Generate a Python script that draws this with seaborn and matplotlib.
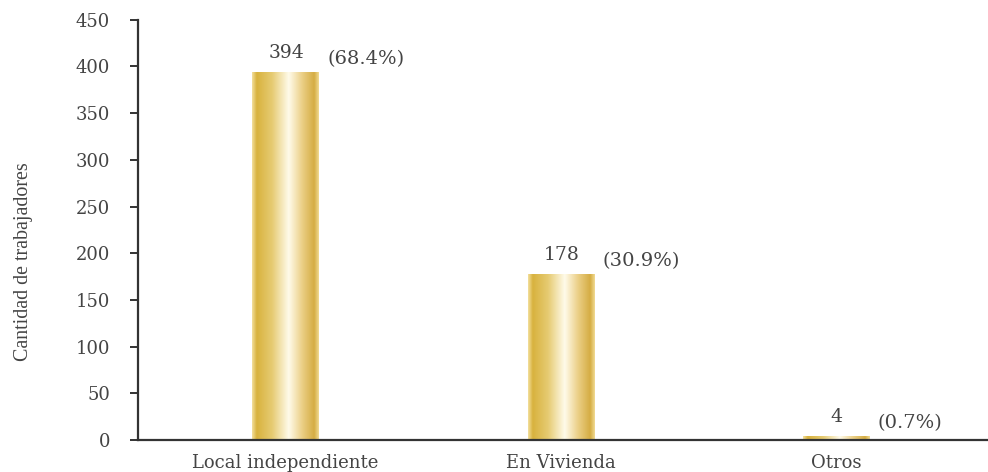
import matplotlib
matplotlib.use("Agg")
import matplotlib.pyplot as plt
import seaborn as sns
import numpy as np
import pandas as pd
from matplotlib.colors import LinearSegmentedColormap

categories = ["Local independiente", "En Vivienda", "Otros"]
counts = [394, 178, 4]
percents = ["(68.4%)", "(30.9%)", "(0.7%)"]
yticks = [0, 50, 100, 150, 200, 250, 300, 350, 400, 450]

sns.set_style("white")
plt.rcParams['font.family'] = ['DejaVu Serif', 'Liberation Serif']
txt = "#444444"

fig = plt.figure(figsize=(9.88, 4.72), dpi=100)
ax = fig.add_axes([0.1397, 0.068, 0.8603, 0.89])

df = pd.DataFrame({"tipo": categories, "n": counts})
sns.barplot(data=df, x="tipo", y="n", color="#DDB94A", width=0.24,
            saturation=1, ax=ax)

# golden cylinder-like shading on each bar
gold = LinearSegmentedColormap.from_list("gold", [
    (0.0, "#f3df9c"), (0.07, "#d8b23e"), (0.3, "#e6cb72"),
    (0.55, "#fffbea"), (0.75, "#ebcf86"), (0.93, "#d5ad44"), (1.0, "#f1da92")])
grad = np.linspace(0, 1, 256).reshape(1, -1)
for patch in ax.patches:
    x0, y0 = patch.get_x(), patch.get_y()
    w, h = patch.get_width(), patch.get_height()
    im = ax.imshow(grad, cmap=gold, extent=[x0, x0 + w, y0, y0 + h],
                   aspect="auto", zorder=patch.get_zorder() + 0.1)
    im.set_clip_path(patch)
    i = round(x0 + w / 2)
    ax.annotate(str(counts[i]), xy=(x0 + w / 2, h), xytext=(1, 19),
                textcoords="offset pixels", ha="center", va="center",
                fontsize=13.5, color=txt)
    ax.annotate(percents[i], xy=(x0 + w, h), xytext=(9, 13),
                textcoords="offset pixels", ha="left", va="center",
                fontsize=14, color=txt)

ax.set_xlim(-0.536, 2.553)
ax.set_ylim(0, 450)
ax.set_yticks(yticks)
ax.set_xlabel("")
ax.set_ylabel("Cantidad de trabajadores", fontsize=14.4, color=txt,
              family="Liberation Serif")
ax.yaxis.set_label_coords(-0.1235, 0.424)

sns.despine(ax=ax)
for s in ["left", "bottom"]:
    ax.spines[s].set_color("#333333")
    ax.spines[s].set_linewidth(1.6)
ax.tick_params(axis="y", left=True, length=6, width=1.4, color="#333333",
               pad=14, labelsize=13, labelcolor=txt)
ax.tick_params(axis="x", bottom=False, pad=7, labelsize=13, labelcolor=txt)

fig.savefig("out.png", dpi=100)
